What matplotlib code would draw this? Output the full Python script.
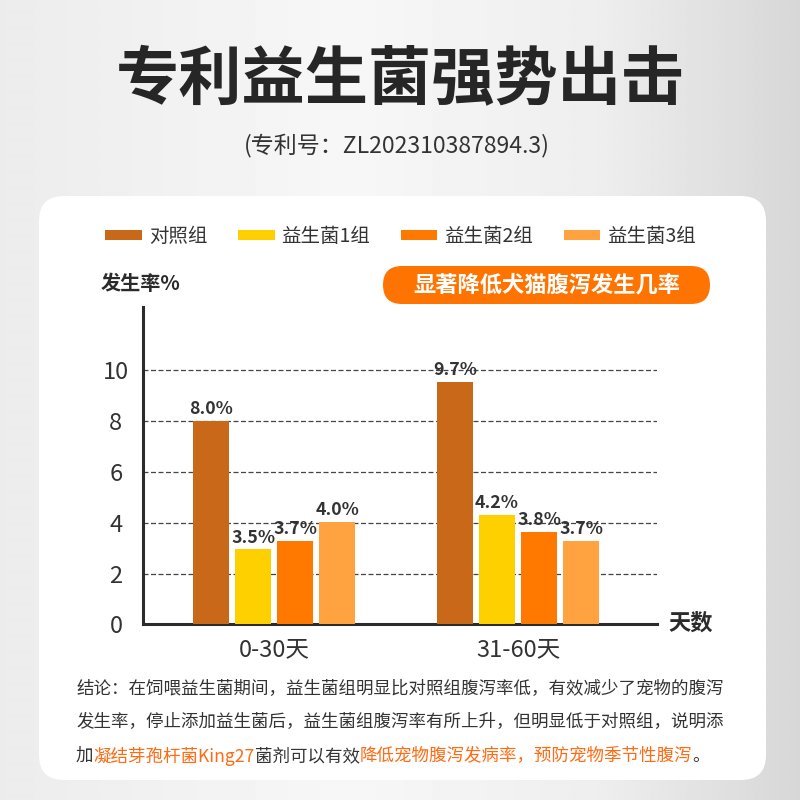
import numpy as np
import matplotlib
matplotlib.use('Agg')
import matplotlib.pyplot as plt
from matplotlib.patches import FancyBboxPatch

plt.rcParams['font.family'] = ['Noto Sans CJK SC', 'DejaVu Sans']

# ---------------- data ----------------
categories = ['0-30天', '31-60天']
group_names = ['对照组', '益生菌1组', '益生菌2组', '益生菌3组']
# bar heights as drawn in the picture
control = [8.0, 9.55]
probiotic1 = [2.95, 4.3]
probiotic2 = [3.3, 3.65]
probiotic3 = [4.05, 3.3]
# value labels printed above the bars
control_labels = ['8.0%', '9.7%']
probiotic1_labels = ['3.5%', '4.2%']
probiotic2_labels = ['3.7%', '3.8%']
probiotic3_labels = ['4.0%', '3.7%']
y_ticks = [0, 2, 4, 6, 8, 10]

title = '专利益生菌强势出击'
subtitle = '(专利号：ZL202310387894.3)'
y_title = '发生率%'
x_title = '天数'
badge = '显著降低犬猫腹泻发生几率'
conclusion_lines = [
    [('结论：在饲喂益生菌期间，益生菌组明显比对照组腹泻率低，有效减少了宠物的腹泻', 'k')],
    [('发生率，停止添加益生菌后，益生菌组腹泻率有所上升，但明显低于对照组，说明添', 'k')],
    [('加', 'k'), ('凝结芽孢杆菌King27', 'o'), ('菌剂可以有效', 'k'),
     ('降低宠物腹泻发病率，预防宠物季节性腹泻', 'o'), ('。', 'k')],
]

colors = ['#C86818', '#FFD000', '#FF7800', '#FFA23F']
dark = '#333333'
orange_txt = '#FF6A13'

# ---------------- figure ----------------
fig = plt.figure(figsize=(8, 8), dpi=100)
ax_bg = fig.add_axes([0, 0, 1, 1])
ax_bg.set_xlim(0, 800)
ax_bg.set_ylim(800, 0)
ax_bg.axis('off')

xs = np.linspace(0, 800, 400)
vals = np.interp(xs, [0, 350, 600, 800], [236, 247, 238, 215]) / 255.0
img = np.tile(vals, (50, 1))
ax_bg.imshow(img, cmap='gray', vmin=0, vmax=1, extent=[0, 800, 800, 0],
             aspect='auto', zorder=0, interpolation='bilinear')

card = FancyBboxPatch((39, 196), 727, 584, boxstyle='round,pad=0,rounding_size=25',
                      fc='white', ec='none', zorder=1)
ax_bg.add_patch(card)

ax_bg.text(400, 81, title, fontsize=45.5, fontweight='black', ha='center', va='center',
           color='#262626', zorder=2)
ax_bg.text(397, 145, subtitle, fontsize=16.6, fontweight='light', ha='center', va='center',
           color=dark, zorder=2)

pill = FancyBboxPatch((383, 266), 327, 38, boxstyle='round,pad=0,rounding_size=19',
                      fc='#FF7300', ec='none', zorder=2)
ax_bg.add_patch(pill)
ax_bg.text(546.5, 285, badge, fontsize=16, fontweight='bold', color='white',
           ha='center', va='center', zorder=3)

ax_bg.text(101, 283, y_title, fontsize=14.5, fontweight='bold', color='#2b2b2b',
           ha='left', va='center', zorder=2)

# conclusion text
fs_c = 12.6
line_y = [689, 722, 756]
for ly, pieces in zip(line_y, conclusion_lines):
    s, c = pieces[0]
    t = ax_bg.text(76, ly, s, fontsize=fs_c, color=dark if c == 'k' else orange_txt,
                   ha='left', va='center', zorder=2)
    for s, c in pieces[1:]:
        t = ax_bg.annotate(s, xy=(1, 0.5), xycoords=t, fontsize=fs_c,
                           color=dark if c == 'k' else orange_txt,
                           ha='left', va='center', zorder=2)

# ---------------- chart ----------------
ax = fig.add_axes([0.1791, 0.2196, 0.6418, 0.3966])
ax.patch.set_alpha(0)

x = np.arange(len(categories))
step = 0.1723
width = 0.1456
series = [control, probiotic1, probiotic2, probiotic3]
series_labels = [control_labels, probiotic1_labels, probiotic2_labels, probiotic3_labels]
for i, (vals_, labs, col, name) in enumerate(zip(series, series_labels, colors, group_names)):
    bars = ax.bar(x + (i - 1.5) * step, vals_, width, color=col, label=name, zorder=3)
    ax.bar_label(bars, labels=labs, padding=2, fontsize=12.8, color=dark,
                 fontweight='semibold')

ax.set_xlim(-0.537, 1.569)
ax.set_ylim(0, 12.5)
ax.set_yticks(y_ticks)
ax.set_xticks(x)
ax.set_xticklabels(categories)
ax.yaxis.grid(True, linestyle=(0, (4, 2)), color='#444444', lw=0.9)
ax.set_axisbelow(True)
ax.tick_params(axis='both', length=0, labelsize=17, labelcolor=dark)
ax.tick_params(axis='y', pad=19.7)
ax.tick_params(axis='x', pad=10)
for lab in ax.get_yticklabels() + ax.get_xticklabels():
    lab.set_fontweight('light')
for lab in ax.get_yticklabels():
    lab.set_horizontalalignment('center')
for s in ['top', 'right']:
    ax.spines[s].set_visible(False)
for s in ['left', 'bottom']:
    ax.spines[s].set_linewidth(2.2)
    ax.spines[s].set_color('#2b2b2b')

ax.text(1.022, 0.005, x_title, transform=ax.transAxes, fontsize=16, fontweight='bold',
        color='#2b2b2b', ha='left', va='center')

leg = ax.legend(ncol=4, loc='center left', bbox_to_anchor=(105 / 800, 1 - 236 / 800),
                bbox_transform=fig.transFigure, frameon=False, fontsize=14,
                handlelength=1.9, handleheight=0.41, handletextpad=0.36,
                columnspacing=1.55, borderpad=0, borderaxespad=0)
for t in leg.get_texts():
    t.set_color(dark)

fig.savefig('out.png', dpi=100)
